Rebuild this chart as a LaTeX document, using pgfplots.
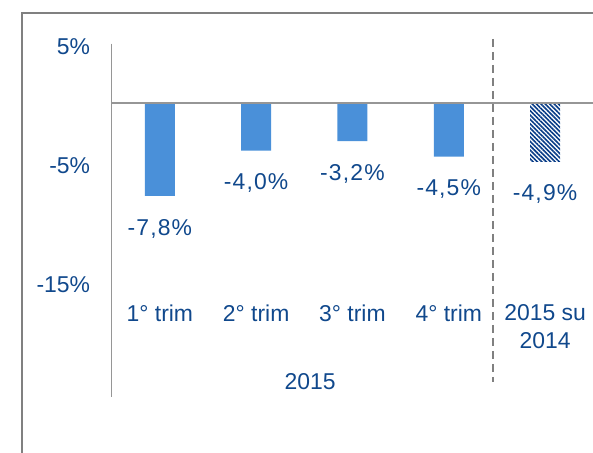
\documentclass[border=0pt]{standalone}
\usepackage{fontspec}
\setmainfont{Liberation Sans}
\usepackage{pgfplots}
\pgfplotsset{compat=1.18}
\usetikzlibrary{patterns.meta}
\definecolor{txtblue}{RGB}{16,72,140}
\definecolor{barblue}{RGB}{74,144,217}
\definecolor{hatchblue}{RGB}{8,60,135}
\definecolor{framegray}{RGB}{128,128,128}
\definecolor{axgray}{RGB}{150,150,150}

\begin{document}
\begin{tikzpicture}[x=1bp,y=1bp]
\useasboundingbox (0,0) rectangle (593,453);
% outer frame (only left and top edges visible)
\draw[framegray, line width=2bp] (22,0) -- (22,440) -- (593,440);
\begin{axis}[
    at={(116,47)}, anchor=south west,
    scale only axis,
    width=481.5bp, height=353.5bp,
    xmin=-0.5, xmax=4.5,
    ymin=-24.7, ymax=5,
    xtick=\empty,
    ytick={5,-5,-15},
    yticklabels={5\%,-5\%,-15\%},
    yticklabel style={anchor=east, inner sep=0pt, xshift=-21.5bp, yshift=-3.5bp,
        font=\fontsize{23}{27}\selectfont, text=txtblue},
    major tick length=0pt,
    axis line style={draw=none},
    ybar, bar width=30bp,
    point meta=explicit symbolic,
    nodes near coords,
    every node near coord/.append style={anchor=north, inner sep=0pt, yshift=-23bp,
        font=\fontsize{23}{27}\selectfont\addfontfeatures{LetterSpace=5}, text=txtblue},
    clip=false,
]
\addplot[bar shift=0pt, draw=none, fill=barblue] coordinates {
    (0,-7.8) [-7,8\%]
    (1,-4.0) [-4,0\%]
    (2,-3.2) [-3,2\%]
    (3,-4.5) [-4,5\%]
};
\addplot[bar shift=0pt, draw=none,
    pattern={Lines[angle=-45,distance=3.1bp,line width=1.6bp]},
    pattern color=hatchblue] coordinates {
    (4,-4.9) [-4,9\%]
};
% axis lines
\draw[axgray, line width=1.5bp] (axis cs:-0.5,5) -- (axis cs:-0.5,-24.7);
\draw[axgray, line width=1.5bp] (axis cs:-0.5,0) -- (axis cs:4.5,0);
\draw[framegray, line width=2bp, dash pattern=on 8bp off 5bp] (axis cs:3.46,5.4) -- (axis cs:3.46,-23.4);
% category labels
\begin{scope}[every node/.style={font=\fontsize{23}{28}\selectfont, text=txtblue, inner sep=0pt, align=center}]
\node[anchor=north] at (axis cs:0,-16.9) {1° trim};
\node[anchor=north] at (axis cs:1,-16.9) {2° trim};
\node[anchor=north] at (axis cs:2,-16.9) {3° trim};
\node[anchor=north] at (axis cs:3,-16.9) {4° trim};
\node[anchor=north] at (axis cs:4,-16.9) {2015 su\\2014};
\node at (axis cs:1.56,-23.4) {2015};
\end{scope}
\end{axis}
\end{tikzpicture}
\end{document}
